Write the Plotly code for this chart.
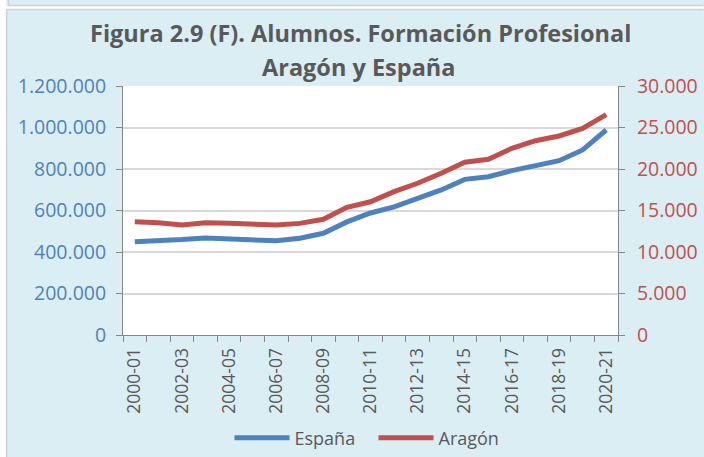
import plotly.graph_objects as go

cursos = ["2000-01", "2001-02", "2002-03", "2003-04", "2004-05", "2005-06", "2006-07",
          "2007-08", "2008-09", "2009-10", "2010-11", "2011-12", "2012-13", "2013-14",
          "2014-15", "2015-16", "2016-17", "2017-18", "2018-19", "2019-20", "2020-21"]
espana = [450000, 453000, 460000, 468000, 465000, 457000, 454000, 466000, 490000, 545000,
          588000, 617000, 660000, 699000, 750000, 763000, 792000, 818000, 840000, 892000, 988000]
aragon = [13650, 13530, 13250, 13530, 13450, 13300, 13250, 13450, 13940, 15380,
          16050, 17270, 18280, 19480, 20810, 21170, 22500, 23410, 23980, 24900, 26550]
titulo1 = "Figura 2.9 (F). Alumnos. Formación Profesional"
titulo2 = "Aragón y España"

BG = "rgb(219,238,244)"
BLUE = "#4F81BD"
RED = "#C0504D"
GRAY = "#595959"
AX = "#868686"
FONT = "Open Sans"

W, H = 704, 457
L, R, T, B = 123, 618.5, 86, 335

idx = list(range(len(cursos)))

fig = go.Figure()
fig.add_trace(go.Scatter(x=idx, y=espana, name="España", mode="lines",
                         line=dict(color=BLUE, width=5), yaxis="y", legend="legend"))
fig.add_trace(go.Scatter(x=idx, y=aragon, name="Aragón", mode="lines",
                         line=dict(color=RED, width=5), yaxis="y2", legend="legend2"))

def px_x(p):
    return (p - L) / (R - L)

def px_y(p):
    return (B - p) / (B - T)

shapes = [
    dict(type="rect", xref="paper", yref="paper", x0=px_x(0), x1=px_x(6),
         y0=px_y(H), y1=px_y(0), fillcolor="white", line=dict(width=0), layer="below"),
    dict(type="rect", xref="paper", yref="paper", x0=px_x(0), x1=px_x(W),
         y0=px_y(9), y1=px_y(6), fillcolor="white", line=dict(width=0), layer="below"),
    dict(type="line", xref="paper", yref="paper", x0=px_x(6.5), x1=px_x(6.5),
         y0=px_y(H), y1=px_y(9), line=dict(color="#D0D0D0", width=1.5), layer="below"),
    dict(type="line", xref="paper", yref="paper", x0=px_x(6.5), x1=px_x(W),
         y0=px_y(9.5), y1=px_y(9.5), line=dict(color="#D0D0D0", width=1.5), layer="below"),
    dict(type="line", xref="paper", yref="paper", x0=px_x(8.5), x1=px_x(8.5),
         y0=px_y(6), y1=px_y(0), line=dict(color="#D0D0D0", width=1.5), layer="below"),
    dict(type="line", xref="paper", yref="paper", x0=px_x(8.5), x1=px_x(W),
         y0=px_y(5.5), y1=px_y(5.5), line=dict(color="#D0D0D0", width=1.5), layer="below"),
]

annotations = [
    dict(text="<b>%s</b>" % titulo1, xref="paper", yref="paper",
         x=px_x(361), y=px_y(33), xanchor="center", yanchor="middle", showarrow=False,
         font=dict(family=FONT, size=23.5, color=GRAY)),
    dict(text="<b>%s</b>" % titulo2, xref="paper", yref="paper",
         x=px_x(359), y=px_y(67), xanchor="center", yanchor="middle", showarrow=False,
         font=dict(family=FONT, size=23.5, color=GRAY)),
]

legend_common = dict(orientation="h", xanchor="center", xref="container",
                     y=1 - 438 / H, yanchor="middle", yref="container",
                     font=dict(size=18, color=GRAY, family=FONT),
                     bgcolor="rgba(0,0,0,0)", itemwidth=55)

fig.update_layout(
    width=W, height=H,
    margin=dict(l=L, r=W - R, t=T, b=H - B, pad=0, autoexpand=False),
    paper_bgcolor=BG, plot_bgcolor="white",
    separators=",.",
    font=dict(family=FONT, color=GRAY),
    xaxis=dict(range=[-0.5, len(cursos) - 0.5], tickmode="array",
               tickvals=idx[::2], ticktext=cursos[::2], tickangle=-90,
               ticks="", showgrid=False, zeroline=False,
               showline=True, linecolor=AX, linewidth=1,
               ticklabelstandoff=5,
               tickfont=dict(size=17.5, color=GRAY, family=FONT),
               minor=dict(tick0=-0.5, dtick=1, ticks="outside", ticklen=6,
                          tickcolor=AX, showgrid=False)),
    yaxis=dict(range=[0, 1200000], dtick=200000, tickformat=",d",
               showgrid=True, gridcolor="#D9D9D9", gridwidth=1.5, zeroline=False,
               showline=True, linecolor=AX, linewidth=1,
               ticks="outside", ticklen=6, tickcolor=AX, ticklabelstandoff=6,
               tickfont=dict(size=19.5, color=BLUE, family=FONT)),
    yaxis2=dict(range=[0, 30000], dtick=5000, tickformat=",d", overlaying="y", side="right",
                showgrid=False, zeroline=False,
                showline=True, linecolor=AX, linewidth=1,
                ticks="outside", ticklen=6, tickcolor=AX, ticklabelstandoff=8,
                tickfont=dict(size=19.5, color=RED, family=FONT)),
    legend=dict(x=295 / W, **legend_common),
    legend2=dict(x=439 / W, **legend_common),
    shapes=shapes,
    annotations=annotations,
    showlegend=True,
)

fig.write_html("out.html", config={"displayModeBar": False},
               post_script="document.body.style.margin='0px';")
